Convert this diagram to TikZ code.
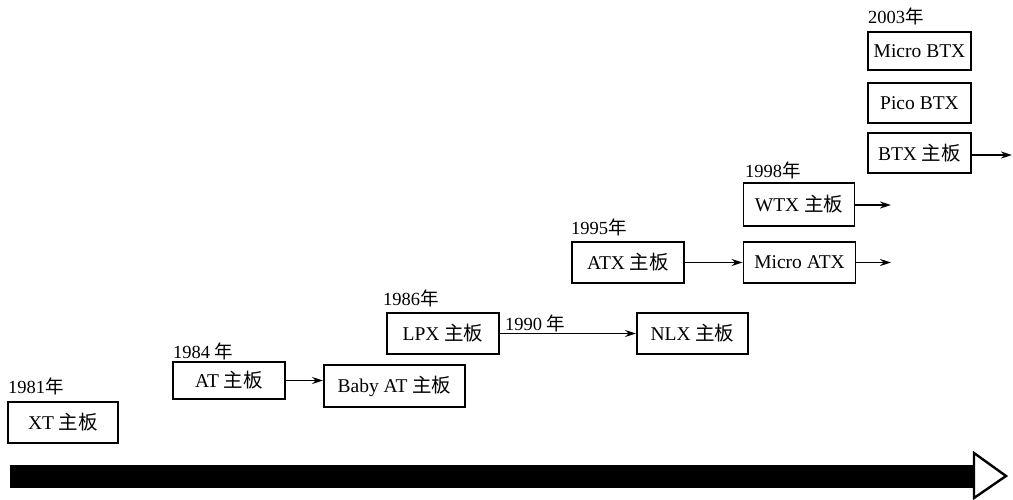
\documentclass[tikz,border=0pt]{standalone}
\usepackage{fontspec}
\setmainfont{Liberation Serif}
\newfontfamily\cjk{Noto Sans CJK SC}
\usetikzlibrary{arrows.meta}
\newcommand{\zb}{{\cjk 主板}}
\newcommand{\nian}{{\cjk 年}}
\begin{document}
\begin{tikzpicture}[x=1pt,y=-1pt,
  font=\fontsize{19.5}{22}\selectfont,
  board/.style={draw=black,line width=1.9pt,fill=white,inner sep=0pt,minimum height=41pt},
  year/.style={anchor=base west,inner sep=0pt,font=\fontsize{18.5}{20}\selectfont},
  link/.style={line width=1.7pt,-{Stealth[length=11pt,width=7pt]}}]
\useasboundingbox (0,0) rectangle (1013,500);
% timeline arrow
\fill[black] (10,465) rectangle (974,488);
\draw[line width=2.4pt,fill=white,line join=miter] (974,453) -- (1006,476) -- (974,498) -- cycle;
% boards
\node[board,minimum width=110pt] (xt) at (63,422.5) {XT \zb};
\node[board,minimum width=112pt,minimum height=37pt] (at) at (229,380.5) {AT \zb};
\node[board,minimum width=141pt,minimum height=42pt] (baby) at (394.5,386) {Baby AT \zb};
\node[board,minimum width=112pt] (lpx) at (443,333.5) {LPX \zb};
\node[board,minimum width=111pt] (nlx) at (692.5,333.5) {NLX \zb};
\node[board,minimum width=112pt] (atx) at (628,262.5) {ATX \zb};
\node[board,minimum width=112pt] (matx) at (799.5,262.5) {Micro ATX};
\node[board,minimum width=111pt,minimum height=43pt] (wtx) at (799,204.5) {WTX \zb};
\node[board,minimum width=103pt,minimum height=38pt] (mbtx) at (919.5,51) {Micro BTX};
\node[board,minimum width=103pt,minimum height=40pt] (pbtx) at (919.5,103) {Pico BTX};
\node[board,minimum width=103pt,minimum height=40pt] (btx) at (919.5,153) {BTX \zb};
% years
\node[year] (y1981) at (8,393) {1981\nian};
\node[year] (y1984) at (173,358) {1984 \nian};
\node[year] (y1986) at (383,305) {1986\nian};
\node[year] (y1990) at (505,330) {1990 \nian};
\node[year] (y1995) at (571,235) {1995\nian};
\node[year] (y1998) at (745,178) {1998\nian};
\node[year] (y2003) at (868,24) {2003\nian};
% free ends
\coordinate (e1) at (891,262.5);
\coordinate (e2) at (891,205);
\coordinate (e3) at (1012,155);
% connectors
\draw[link] (at.east) -- (at.east -| baby.west);
\draw[link] (lpx.east) -- (nlx.west);
\draw[link] (atx.east) -- (matx.west);
\draw[link] (matx.east) -- (e1);
\draw[link] (wtx.east |- e2) -- (e2);
\draw[link] (btx.east |- e3) -- (e3);
\end{tikzpicture}
\end{document}
